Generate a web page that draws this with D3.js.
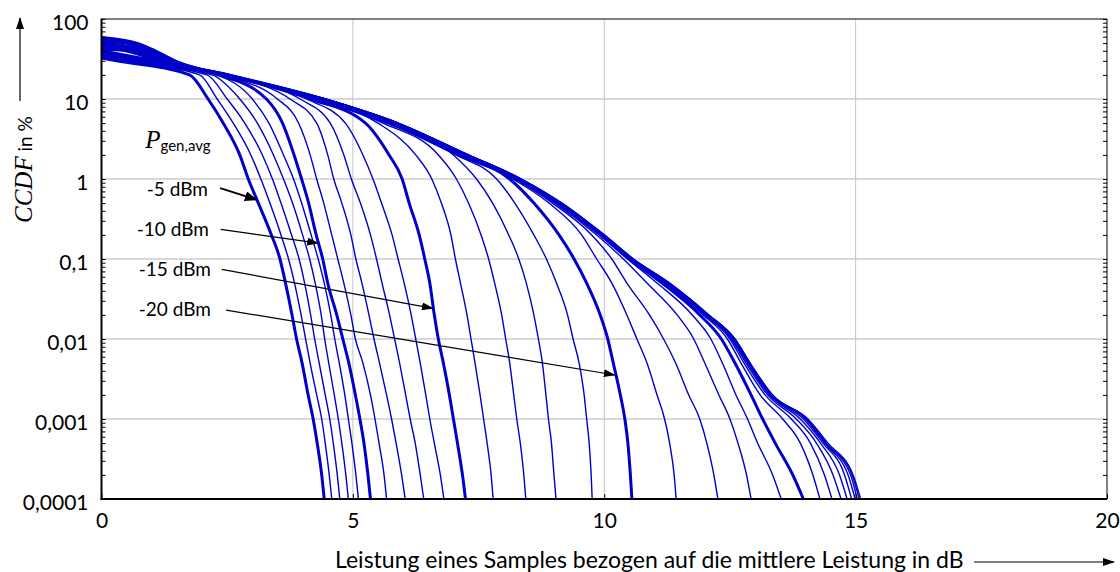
<!DOCTYPE html>
<html>
<head>
<meta charset="utf-8">
<script src="https://cdnjs.cloudflare.com/ajax/libs/d3/7.8.5/d3.min.js"></script>
<style>
  body { margin: 0; background: #fff; }
  text { font-family: Lato, "Open Sans", sans-serif; }
</style>
</head>
<body>
<svg id="chart" width="1120" height="572"></svg>
<script>
const levels = [50, 40, 30, 20, 10, 5, 2, 1, 0.5, 0.2, 0.1, 0.05, 0.02, 0.01, 0.005, 0.002, 0.001, 0.0005, 0.0002, 0.0001];

// average generator power of each curve (dBm)
const powers = [-5, -6, -7, -8, -9, -10, -11, -12, -13, -14, -15, -16, -17, -18, -19,
                -20, -21, -22, -23, -24, -25, -26, -27, -28, -29, -30, -31, -32, -33, -34];
const thickPowers = [-5, -10, -15, -20, -25];

// CCDF at 0 dB for each curve
const startCcdf = [32.5, 33, 33.5, 34, 34.5, 35, 36, 37, 38, 39, 40, 41, 42, 43, 44,
                   45, 46, 47, 48, 49, 50, 51, 52, 53, 54, 55, 56, 57, 58.5, 60];

// x (dB) where each curve crosses the levels above, null = curve starts below that level
const crossX = [
  [null, null, 0.3, 1.75, 2.12, 2.42, 2.75, 2.92, 3.12, 3.38, 3.55, 3.66, 3.79, 3.88, 3.99, 4.11, 4.21, 4.29, 4.38, 4.43],
  [null, null, 0.38, 1.95, 2.3, 2.62, 2.97, 3.17, 3.35, 3.57, 3.72, 3.84, 3.97, 4.06, 4.15, 4.28, 4.38, 4.45, 4.53, 4.58],
  [null, null, 0.45, 2.1, 2.5, 2.85, 3.2, 3.4, 3.57, 3.78, 3.93, 4.04, 4.16, 4.24, 4.33, 4.45, 4.54, 4.61, 4.69, 4.74],
  [null, null, 0.52, 2.2, 2.75, 3.1, 3.42, 3.62, 3.8, 4.0, 4.14, 4.25, 4.37, 4.44, 4.52, 4.63, 4.71, 4.78, 4.86, 4.91],
  [null, null, 0.6, 2.28, 3.0, 3.33, 3.62, 3.82, 3.98, 4.17, 4.31, 4.43, 4.56, 4.64, 4.73, 4.84, 4.91, 4.98, 5.06, 5.11],
  [null, null, 0.7, 2.33, 3.28, 3.6, 3.83, 3.98, 4.12, 4.27, 4.4, 4.5, 4.68, 4.8, 4.92, 5.05, 5.14, 5.22, 5.3, 5.35],
  [null, null, 0.8, 2.37, 3.5, 3.92, 4.15, 4.28, 4.42, 4.58, 4.7, 4.82, 4.96, 5.05, 5.2, 5.35, 5.44, 5.52, 5.62, 5.67],
  [null, null, 0.88, 2.4, 3.75, 4.28, 4.5, 4.62, 4.78, 4.96, 5.06, 5.18, 5.32, 5.42, 5.53, 5.67, 5.77, 5.86, 5.97, 6.04],
  [null, null, 0.95, 2.42, 3.95, 4.55, 4.82, 4.97, 5.15, 5.35, 5.47, 5.58, 5.73, 5.83, 5.93, 6.05, 6.14, 6.24, 6.34, 6.41],
  [null, null, 1.0, 2.44, 4.08, 4.85, 5.2, 5.4, 5.57, 5.78, 5.9, 6.02, 6.16, 6.25, 6.34, 6.45, 6.53, 6.62, 6.74, 6.81],
  [null, null, 1.05, 2.45, 4.15, 5.25, 5.72, 5.98, 6.12, 6.32, 6.43, 6.53, 6.62, 6.7, 6.8, 6.92, 7.0, 7.08, 7.18, 7.24],
  [null, 0.37, 1.1, 2.46, 4.2, 5.5, 6.25, 6.57, 6.76, 6.95, 7.04, 7.14, 7.27, 7.35, 7.43, 7.53, 7.6, 7.67, 7.75, 7.79],
  [null, 0.45, 1.14, 2.47, 4.24, 5.6, 6.7, 7.06, 7.3, 7.55, 7.7, 7.82, 7.96, 8.04, 8.12, 8.2, 8.26, 8.33, 8.4, 8.44],
  [null, 0.52, 1.17, 2.48, 4.28, 5.66, 7.0, 7.46, 7.78, 8.1, 8.3, 8.45, 8.6, 8.69, 8.77, 8.84, 8.89, 8.95, 9.0, 9.04],
  [null, 0.58, 1.2, 2.49, 4.31, 5.7, 7.05, 7.86, 8.22, 8.6, 8.85, 9.05, 9.27, 9.38, 9.5, 9.6, 9.65, 9.7, 9.74, 9.76],
  [null, 0.64, 1.22, 2.5, 4.34, 5.74, 7.1, 8.12, 8.6, 9.1, 9.4, 9.65, 9.92, 10.07, 10.18, 10.32, 10.41, 10.47, 10.52, 10.55],
  [null, 0.7, 1.24, 2.5, 4.36, 5.77, 7.14, 8.18, 8.9, 9.55, 9.85, 10.15, 10.45, 10.65, 10.85, 11.05, 11.2, 11.3, 11.39, 11.43],
  [null, 0.75, 1.26, 2.51, 4.38, 5.8, 7.17, 8.21, 8.97, 9.75, 10.15, 10.45, 10.9, 11.18, 11.42, 11.68, 11.9, 12.04, 12.18, 12.26],
  [null, 0.8, 1.28, 2.52, 4.39, 5.82, 7.2, 8.24, 9.02, 9.85, 10.38, 10.85, 11.45, 11.78, 12.0, 12.28, 12.5, 12.66, 12.83, 12.92],
  [null, 0.84, 1.3, 2.52, 4.4, 5.84, 7.22, 8.26, 9.05, 9.9, 10.46, 11.05, 11.75, 12.12, 12.35, 12.62, 12.85, 13.05, 13.35, 13.52],
  [null, 0.88, 1.32, 2.53, 4.41, 5.85, 7.24, 8.28, 9.08, 9.93, 10.5, 11.15, 11.9, 12.33, 12.6, 12.92, 13.15, 13.4, 13.75, 13.96],
  [0.38, 0.92, 1.34, 2.53, 4.42, 5.86, 7.25, 8.3, 9.1, 9.95, 10.53, 11.2, 11.97, 12.45, 12.72, 13.1, 13.55, 13.9, 14.15, 14.29],
  [0.45, 0.95, 1.36, 2.54, 4.42, 5.87, 7.26, 8.31, 9.11, 9.96, 10.54, 11.23, 12.0, 12.5, 12.78, 13.2, 13.72, 14.1, 14.38, 14.53],
  [0.5, 0.98, 1.38, 2.54, 4.43, 5.88, 7.27, 8.32, 9.12, 9.97, 10.55, 11.25, 12.02, 12.53, 12.82, 13.25, 13.82, 14.22, 14.55, 14.71],
  [0.55, 1.0, 1.4, 2.54, 4.43, 5.88, 7.28, 8.33, 9.13, 9.98, 10.56, 11.26, 12.04, 12.55, 12.85, 13.28, 13.9, 14.3, 14.68, 14.83],
  [0.6, 1.02, 1.42, 2.55, 4.44, 5.89, 7.28, 8.34, 9.14, 9.98, 10.56, 11.27, 12.05, 12.57, 12.87, 13.3, 13.96, 14.35, 14.78, 14.92],
  [0.64, 1.04, 1.44, 2.55, 4.44, 5.89, 7.29, 8.34, 9.14, 9.99, 10.57, 11.28, 12.06, 12.58, 12.88, 13.32, 14.0, 14.38, 14.85, 14.99],
  [0.68, 1.06, 1.46, 2.55, 4.45, 5.9, 7.29, 8.35, 9.15, 9.99, 10.57, 11.29, 12.07, 12.59, 12.89, 13.33, 14.02, 14.4, 14.9, 15.03],
  [0.72, 1.08, 1.48, 2.55, 4.45, 5.9, 7.3, 8.35, 9.15, 10.0, 10.58, 11.3, 12.08, 12.6, 12.9, 13.34, 14.04, 14.42, 14.93, 15.07],
  [0.75, 1.1, 1.5, 2.55, 4.45, 5.9, 7.3, 8.35, 9.16, 10.0, 10.58, 11.3, 12.08, 12.6, 12.9, 13.35, 14.05, 14.45, 14.95, 15.1]
];

// axes
const xTicks = [0, 5, 10, 15, 20];
const yTicks = [100, 10, 1, 0.1, 0.01, 0.001, 0.0001];
const yTickLabels = ["100", "10", "1", "0,1", "0,01", "0,001", "0,0001"];

// annotations: label, text position, arrow start, arrow tip (dB, %)
const annoLabels = ["-5 dBm", "-10 dBm", "-15 dBm", "-20 dBm"];
const annoText = [[0.9, 0.75], [0.7, 0.237], [0.74, 0.075], [0.74, 0.0237]];
const annoFrom = [[2.36, 0.77], [2.37, 0.235], [2.39, 0.0743], [2.48, 0.023]];
const annoTo = [[3.09, 0.55], [4.31, 0.158], [6.59, 0.0242], [10.21, 0.00355]];

const blue = "#0000c8";

const svg = d3.select("#chart");
const x = d3.scaleLinear().domain([0, 20]).range([101.5, 1107]);
const y = d3.scaleLog().domain([0.0001, 100]).range([499, 19]);

// grid
svg.append("g").selectAll("line")
    .data(yTicks.slice(1, -1))
    .join("line")
    .attr("x1", x(0)).attr("x2", x(20))
    .attr("y1", d => y(d)).attr("y2", d => y(d))
    .attr("stroke", "#d9d9d9").attr("stroke-width", 2);

svg.append("g").selectAll("line")
    .data(xTicks.slice(1, -1))
    .join("line")
    .attr("x1", d => x(d)).attr("x2", d => x(d))
    .attr("y1", y(100)).attr("y2", y(0.0001))
    .attr("stroke", "#c4c4c4").attr("stroke-width", 1);

// curves
const series = powers.map((p, i) => {
    const pts = [[0, startCcdf[i]]];
    levels.forEach((l, j) => {
        if (crossX[i][j] != null) pts.push([crossX[i][j], l]);
    });
    return { power: p, pts: pts };
});

const line = d3.line()
    .x(d => x(d[0]))
    .y(d => y(d[1]))
    .curve(d3.curveMonotoneX);

svg.append("g").selectAll("path")
    .data(series)
    .join("path")
    .attr("d", d => line(d.pts))
    .attr("fill", "none")
    .attr("stroke", blue)
    .attr("stroke-width", d => thickPowers.includes(d.power) ? 3 : 1.4)
    .attr("stroke-linejoin", "round");

// minor ticks, inside on both sides
const minor = y.ticks();
svg.append("g")
    .attr("transform", "translate(" + x(0) + ",0)")
    .call(d3.axisRight(y).tickValues(minor).tickSize(4).tickFormat(""))
    .call(g => g.select(".domain").remove());
svg.append("g")
    .attr("transform", "translate(" + x(20) + ",0)")
    .call(d3.axisLeft(y).tickValues(minor).tickSize(4).tickFormat(""))
    .call(g => g.select(".domain").remove());
svg.append("g")
    .attr("transform", "translate(0," + y(0.0001) + ")")
    .call(d3.axisTop(x).tickValues(xTicks).tickSize(5).tickFormat(""))
    .call(g => g.select(".domain").remove());

// tick labels
svg.append("g")
    .attr("transform", "translate(" + x(0) + ",0)")
    .call(d3.axisLeft(y).tickValues(yTicks).tickSize(0).tickPadding(13)
        .tickFormat(d => yTickLabels[yTicks.indexOf(d)]))
    .call(g => g.select(".domain").remove())
    .call(g => g.selectAll("text").attr("dy", "0.5em")
        .style("font-size", "21px").style("font-family", "Lato").attr("fill", "#000"));

svg.append("g")
    .attr("transform", "translate(0," + y(0.0001) + ")")
    .call(d3.axisBottom(x).tickValues(xTicks).tickSize(0).tickPadding(14))
    .call(g => g.select(".domain").remove())
    .call(g => g.selectAll("text")
        .style("font-size", "21px").style("font-family", "Lato").attr("fill", "#000"));

// frame
svg.append("line").attr("x1", x(0)).attr("x2", x(20)).attr("y1", y(100)).attr("y2", y(100))
    .attr("stroke", "#000").attr("stroke-width", 1);
svg.append("line").attr("x1", x(20)).attr("x2", x(20)).attr("y1", y(100)).attr("y2", y(0.0001))
    .attr("stroke", "#000").attr("stroke-width", 1);
svg.append("line").attr("x1", x(0)).attr("x2", x(0)).attr("y1", y(100) - 0.5).attr("y2", y(0.0001) + 1)
    .attr("stroke", "#000").attr("stroke-width", 2);
svg.append("line").attr("x1", x(0) - 1).attr("x2", x(20)).attr("y1", y(0.0001)).attr("y2", y(0.0001))
    .attr("stroke", "#000").attr("stroke-width", 2);

// arrow heads
const defs = svg.append("defs");
defs.append("marker").attr("id", "head")
    .attr("markerUnits", "userSpaceOnUse")
    .attr("markerWidth", 12).attr("markerHeight", 8)
    .attr("refX", 11).attr("refY", 4).attr("orient", "auto")
    .append("path").attr("d", "M0,0 L12,4 L0,8 Z").attr("fill", "#000");
defs.append("marker").attr("id", "headBig")
    .attr("markerUnits", "userSpaceOnUse")
    .attr("markerWidth", 13).attr("markerHeight", 10)
    .attr("refX", 12).attr("refY", 5).attr("orient", "auto")
    .append("path").attr("d", "M0,0 L13,5 L0,10 Z").attr("fill", "#000");

// annotations
annoLabels.forEach((t, i) => {
    svg.append("text")
        .attr("x", x(annoText[i][0])).attr("y", y(annoText[i][1]))
        .attr("dy", "0.36em")
        .style("font-size", "19px")
        .text(t);
    svg.append("line")
        .attr("x1", x(annoFrom[i][0])).attr("y1", y(annoFrom[i][1]))
        .attr("x2", x(annoTo[i][0])).attr("y2", y(annoTo[i][1]))
        .attr("stroke", "#000")
        .attr("stroke-width", i === 0 ? 2 : 1.2)
        .attr("marker-end", i === 0 ? "url(#headBig)" : "url(#head)");
});

const pLabel = svg.append("text").attr("x", x(0.87)).attr("y", y(2.44));
pLabel.append("tspan").text("P")
    .style("font-family", "Liberation Serif").style("font-style", "italic").style("font-size", "25px");
pLabel.append("tspan").text("gen,avg").attr("dy", 3)
    .style("font-size", "15px");

// axis titles
const yTitle = svg.append("text").attr("transform", "translate(32,223) rotate(-90)");
yTitle.append("tspan").text("CCDF")
    .style("font-family", "Liberation Serif").style("font-style", "italic").style("font-size", "25px");
yTitle.append("tspan").text(" in %").style("font-size", "19px");

svg.append("line").attr("x1", 20).attr("x2", 20).attr("y1", 101).attr("y2", 18)
    .attr("stroke", "#000").attr("stroke-width", 1.2).attr("marker-end", "url(#head)");

svg.append("text").attr("x", 335).attr("y", 568)
    .style("font-size", "23px")
    .text("Leistung eines Samples bezogen auf die mittlere Leistung in dB");

svg.append("line").attr("x1", 974).attr("x2", 1114).attr("y1", 562).attr("y2", 562)
    .attr("stroke", "#000").attr("stroke-width", 1.2).attr("marker-end", "url(#head)");
</script>
</body>
</html>
